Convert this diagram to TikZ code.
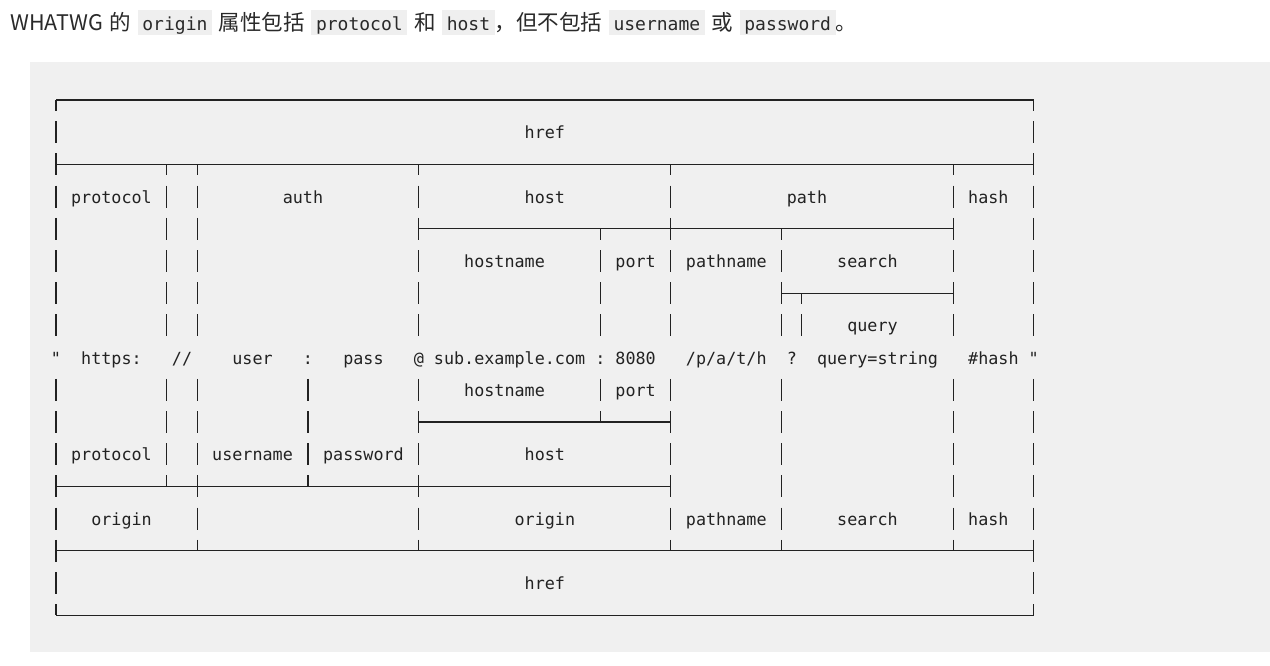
\documentclass[tikz,border=0pt]{standalone}
\usepackage{fontspec}
\newfontfamily\cjk{Noto Sans CJK SC}
\newfontfamily\mono{DejaVu Sans Mono}
\definecolor{panel}{HTML}{F0F0F0}
\definecolor{codebg}{HTML}{EFEFEF}
\definecolor{ink}{HTML}{222222}
\definecolor{headink}{HTML}{2A2A2A}
\newcommand\codespan[1]{{\setlength\fboxsep{0pt}\colorbox{codebg}{\hspace{4.6pt}\rule[-5pt]{0pt}{25pt}{\mono\fontsize{18pt}{22pt}\selectfont #1}\hspace{4.6pt}}}}
\tikzset{
  lbl/.style={font=\mono\fontsize{16.75pt}{20pt}\selectfont, text=ink, inner sep=0pt, anchor=base},
  rule/.style={draw=ink, line width=1.1pt}
}
\begin{document}
\begin{tikzpicture}[x=1pt,y=1pt]
\useasboundingbox (0,0) rectangle (1270,-665);
\fill[white] (0,0) rectangle (1270,-665);
\fill[panel] (30,-62) rectangle (1270,-652);
\node[anchor=base west, inner sep=0pt, text=headink, font=\cjk\fontsize{21.5pt}{25pt}\selectfont] (title) at (10,-30)
  {\spaceskip=6.7pt WHATWG 的 \codespan{origin} 属性包括 \codespan{protocol} 和 \codespan{host}，但不包括 \codespan{username} 或 \codespan{password}。};
\begin{scope}[shift={(56,-100)}, x=10.08pt, y=-32.2pt]
  % horizontal rules
  \draw[rule] (0,0) -- (97,0);
  \draw[rule] (0,2) -- (97,2);
  \draw[rule] (36,4) -- (89,4);
  \draw[rule] (72,6) -- (89,6);
  \draw[rule] (36,10) -- (61,10);
  \draw[rule] (0,12) -- (61,12);
  \draw[rule] (0,14) -- (97,14);
  \draw[rule] (0,16) -- (97,16);
  % full vertical pieces
  \foreach \r/\cs in {1/{0,97},2/{0,97},3/{0,11,14,36,61,89,97},4/{0,11,14,36,61,89,97},
      5/{0,11,14,36,54,61,72,89,97},6/{0,11,14,36,54,61,72,89,97},7/{0,11,14,36,54,61,72,74,89,97},
      9/{0,11,14,25,36,54,61,72,89,97},10/{0,11,14,25,36,61,72,89,97},11/{0,11,14,25,36,61,72,89,97},
      12/{0,14,36,61,72,89,97},13/{0,14,36,61,72,89,97},14/{0,97},15/{0,97}}
    \foreach \c in \cs \draw[rule] (\c,\r-0.34) -- (\c,\r+0.34);
  % downward pieces
  \foreach \r/\cs in {0/{0,97},2/{11,14,36,61,89},4/{54,72},6/{74}}
    \foreach \c in \cs \draw[rule] (\c,\r) -- (\c,\r+0.34);
  % upward pieces
  \foreach \r/\cs in {10/{54},12/{11,25},14/{14,36,61,72,89},16/{0,97}}
    \foreach \c in \cs \draw[rule] (\c,\r-0.34) -- (\c,\r);
  % labels
  \node[lbl] (href1) at (48.5,1.2) {href};
  \node[lbl] (protocol1) at (5.5,3.2) {protocol};
  \node[lbl] (auth) at (24.5,3.2) {auth};
  \node[lbl] (host1) at (48.5,3.2) {host};
  \node[lbl] (path) at (74.5,3.2) {path};
  \node[lbl] (hash1) at (92.5,3.2) {hash};
  \node[lbl] (hostname1) at (44.5,5.2) {hostname};
  \node[lbl] (port1) at (57.5,5.2) {port};
  \node[lbl] (pathname1) at (66.5,5.2) {pathname};
  \node[lbl] (search1) at (80.5,5.2) {search};
  \node[lbl] (query) at (81,7.2) {query};
  \node[lbl] (q1) at (0,8.2) {"};
  \node[lbl] (https) at (5.5,8.2) {https:};
  \node[lbl] (slashes) at (12.5,8.2) {//};
  \node[lbl] (user) at (19.5,8.2) {user};
  \node[lbl] (colon1) at (25,8.2) {:};
  \node[lbl] (pass) at (30.5,8.2) {pass};
  \node[lbl] (at) at (36,8.2) {@};
  \node[lbl] (sub) at (45,8.2) {sub.example.com};
  \node[lbl] (colon2) at (54,8.2) {:};
  \node[lbl] (num) at (57.5,8.2) {8080};
  \node[lbl] (pth) at (66.5,8.2) {/p/a/t/h};
  \node[lbl] (qm) at (73,8.2) {?};
  \node[lbl] (qs) at (81.5,8.2) {query=string};
  \node[lbl] (hs) at (93,8.2) {\#hash};
  \node[lbl] (q2) at (97,8.2) {"};
  \node[lbl] (hostname2) at (44.5,9.2) {hostname};
  \node[lbl] (port2) at (57.5,9.2) {port};
  \node[lbl] (protocol2) at (5.5,11.2) {protocol};
  \node[lbl] (username) at (19.5,11.2) {username};
  \node[lbl] (password) at (30.5,11.2) {password};
  \node[lbl] (host2) at (48.5,11.2) {host};
  \node[lbl] (origin1) at (6.5,13.2) {origin};
  \node[lbl] (origin2) at (48.5,13.2) {origin};
  \node[lbl] (pathname2) at (66.5,13.2) {pathname};
  \node[lbl] (search2) at (80.5,13.2) {search};
  \node[lbl] (hash2) at (92.5,13.2) {hash};
  \node[lbl] (href2) at (48.5,15.2) {href};
\end{scope}
\end{tikzpicture}
\end{document}
